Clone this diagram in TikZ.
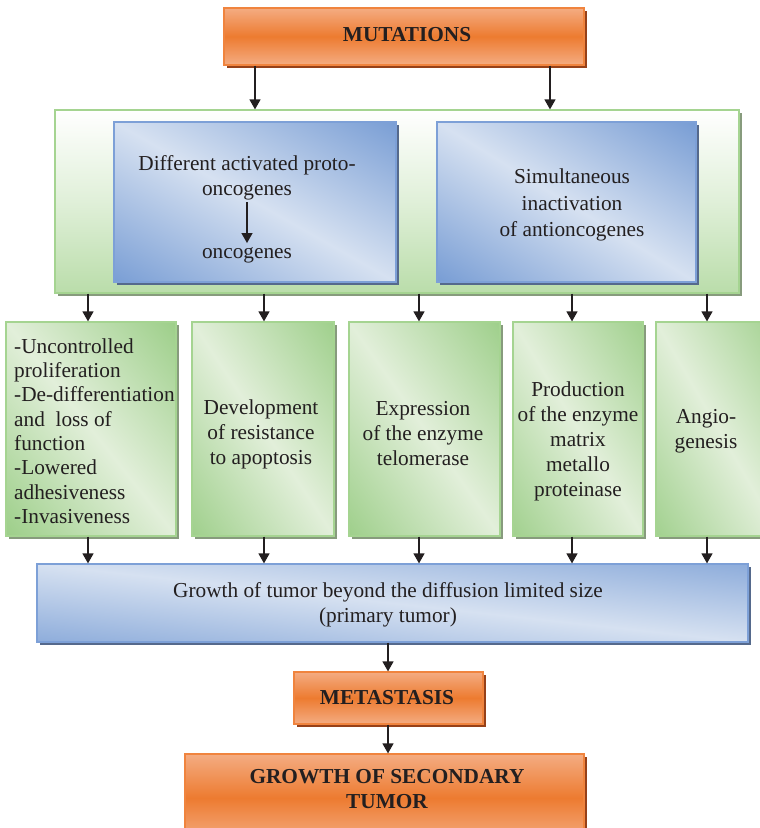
\documentclass[tikz,border=0pt]{standalone}
\usepackage{fontspec}
\setmainfont{Liberation Serif}
\usetikzlibrary{arrows.meta,shadows}

\definecolor{orEdge}{RGB}{240,132,62}
\definecolor{orLight}{RGB}{244,172,130}
\definecolor{orMid}{RGB}{237,123,48}
\definecolor{orShadow}{RGB}{150,65,25}
\definecolor{blEdge}{RGB}{125,160,215}
\definecolor{blDark}{RGB}{116,154,211}
\definecolor{blLight}{RGB}{214,225,241}
\definecolor{blShadow}{RGB}{85,105,140}
\definecolor{grEdge}{RGB}{165,212,145}
\definecolor{grDark}{RGB}{156,206,136}
\definecolor{grLight}{RGB}{226,239,218}
\definecolor{grBottom}{RGB}{186,221,170}
\definecolor{grShadow}{RGB}{135,155,125}
\definecolor{ink}{RGB}{35,31,32}

\tikzset{
  box/.style={inner sep=0pt, line width=1.2pt},
  % light band along the NW--SE diagonal, darker toward NE and SW corners
  diagshade/.style 2 args={fill=#1, path picture={
      \pgfpointdiff{\pgfpointanchor{path picture bounding box}{south west}}%
                   {\pgfpointanchor{path picture bounding box}{north east}}%
      \pgfgetlastxy{\bw}{\bh}%
      \pgfmathsetmacro{\bang}{atan2(\bh,\bw)}%
      \pgfmathsetmacro{\blen}{veclen(\bw,\bh)}%
      \pgfmathsetmacro{\bdd}{\bh*(\bw/\blen)}%
      \shade[top color=#1, bottom color=#1, middle color=#2, shading angle=-\bang]
        (path picture bounding box.center) ++(-\blen*0.5pt, -\bdd*1pt)
        rectangle ++(\blen*1pt, 2*\bdd*1pt);
  }},
  orangebox/.style={box, draw=orEdge, top color=orLight, bottom color=orLight,
    middle color=orMid,
    drop shadow={shadow xshift=2.5pt, shadow yshift=-3pt, fill=orShadow, opacity=1}},
  bluebox/.style={box, draw=blEdge, diagshade={blDark}{blLight},
    drop shadow={shadow xshift=2.5pt, shadow yshift=-3pt, fill=blShadow, opacity=1}},
  outerbox/.style={box, draw=grEdge, top color=white, bottom color=grBottom,
    middle color=white!55!grBottom,
    drop shadow={shadow xshift=2.5pt, shadow yshift=-3pt, fill=grShadow, opacity=1}},
  greenbox/.style={box, draw=grEdge, diagshade={grDark}{grLight},
    drop shadow={shadow xshift=2.5pt, shadow yshift=-3pt, fill=grShadow, opacity=1}},
  txt/.style={font=\fontsize{21.3}{25}\selectfont, text=ink, align=center, inner sep=0pt},
  boldtxt/.style={txt, font=\fontsize{21.3}{25}\selectfont\bfseries},
  arr/.style={draw=ink, line width=1.3pt, -{Triangle[width=11pt,length=10pt]}},
}

\begin{document}
\begin{tikzpicture}[x=1pt, y=-1pt]
\useasboundingbox (0,0) rectangle (760,828);

% top: mutations
\node[orangebox, minimum width=360pt, minimum height=57pt] (mut) at (404,36.5) {};
\node[boldtxt] (tMut) at (407,35) {MUTATIONS};

% proto-oncogene / antioncogene block
\node[outerbox, minimum width=684pt, minimum height=183pt] (outer) at (397,201.5) {};
\node[bluebox, minimum width=282pt, minimum height=160pt] (bl) at (255,202) {};
\node[bluebox, minimum width=259pt, minimum height=160pt] (br) at (566.5,202) {};
\node[txt] (tProto) at (247,177.5) {Different activated proto-\\oncogenes};
\node[txt] (tOnco) at (247,255) {oncogenes};
\node[txt, font=\fontsize{21.3}{26.3}\selectfont] (tAnti) at (572,205) {Simultaneous\\inactivation\\of antioncogenes};

% consequences
\node[greenbox, minimum width=170pt, minimum height=214pt] (g1) at (91,429) {};
\node[greenbox, minimum width=142pt, minimum height=214pt] (g2) at (263,429) {};
\node[greenbox, minimum width=151pt, minimum height=214pt] (g3) at (424.5,429) {};
\node[greenbox, minimum width=130pt, minimum height=214pt] (g4) at (578,429) {};
\node[greenbox, minimum width=124pt, minimum height=214pt] (g5) at (718,429) {};
\node[txt, align=left, anchor=west, font=\fontsize{21.3}{24.3}\selectfont] (tList) at (14,431)
  {-Uncontrolled\\proliferation\\-De-differentiation\\and\ \ loss of\\function\\-Lowered\\adhesiveness\\-Invasiveness};
\node[txt] (tDev) at (261,434) {Development\\of resistance\\to apoptosis};
\node[txt] (tExp) at (423,434) {Expression\\of the enzyme\\telomerase};
\node[txt] (tProd) at (578,441) {Production\\of the enzyme\\matrix\\metallo\\proteinase};
\node[txt] (tAngio) at (706,431) {Angio-\\genesis};

% primary tumour and beyond
\node[bluebox, minimum width=711pt, minimum height=78pt] (growth) at (392.5,603) {};
\node[txt] (tGrowth) at (388,605) {Growth of tumor beyond the diffusion limited size\\(primary tumor)};
\node[orangebox, minimum width=189pt, minimum height=52pt] (meta) at (388.5,698) {};
\node[boldtxt] (tMeta) at (387,698) {METASTASIS};
\node[orangebox, minimum width=399pt, minimum height=88pt] (sec) at (384.5,798) {};
\node[boldtxt] (tSec) at (387,789) {GROWTH OF SECONDARY\\TUMOR};

% connectors
\draw[arr] (mut.south -| 255,0) -- (outer.north -| 255,0);
\draw[arr] (mut.south -| 550,0) -- (outer.north -| 550,0);
\draw[arr, shorten <=2pt, shorten >=4pt] (tProto.south) -- (tOnco.north);

\draw[arr] (outer.south -| 88,0)  -- (g1.north -| 88,0);
\draw[arr] (outer.south -| 264,0) -- (g2.north -| 264,0);
\draw[arr] (outer.south -| 419,0) -- (g3.north -| 419,0);
\draw[arr] (outer.south -| 572,0) -- (g4.north -| 572,0);
\draw[arr] (outer.south -| 707,0) -- (g5.north -| 707,0);

\draw[arr] (g1.south -| 88,0)  -- (growth.north -| 88,0);
\draw[arr] (g2.south -| 264,0) -- (growth.north -| 264,0);
\draw[arr] (g3.south -| 419,0) -- (growth.north -| 419,0);
\draw[arr] (g4.south -| 572,0) -- (growth.north -| 572,0);
\draw[arr] (g5.south -| 707,0) -- (growth.north -| 707,0);

\draw[arr] (growth.south -| 388,0) -- (meta.north -| 388,0);
\draw[arr] (meta.south -| 388,0) -- (sec.north -| 388,0);
\end{tikzpicture}
\end{document}
